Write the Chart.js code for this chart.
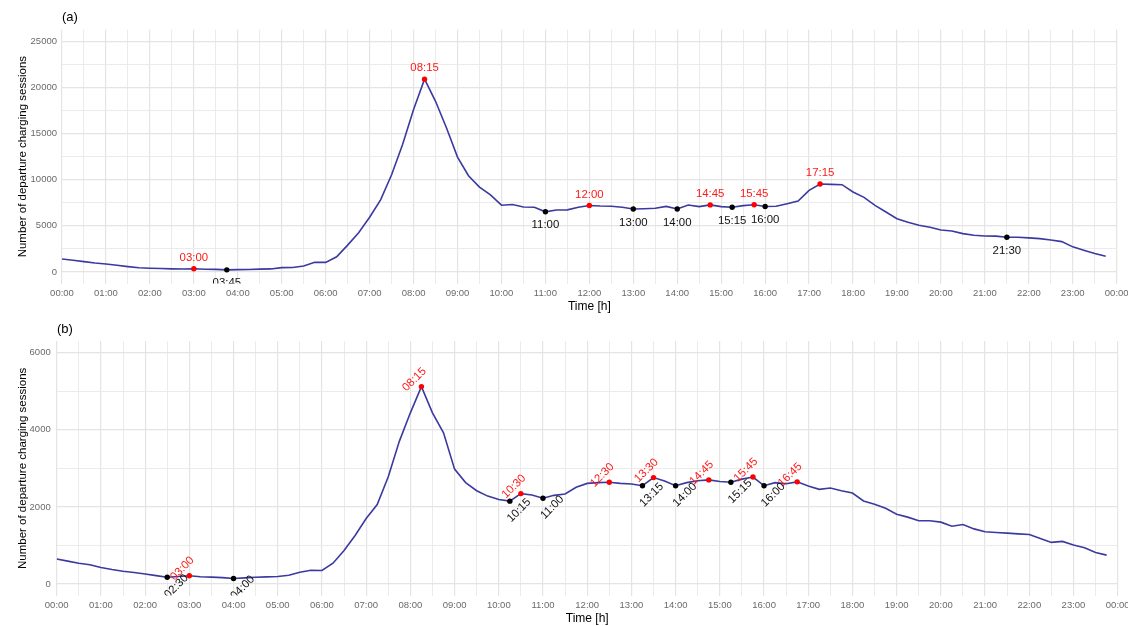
<!DOCTYPE html>
<html>
<head>
<meta charset="utf-8">
<script src="https://cdn.jsdelivr.net/npm/chart.js@4.4.1/dist/chart.umd.min.js"></script>
<style>
  html, body { margin: 0; padding: 0; background: #ffffff; }
  .panel { position: absolute; left: 0; width: 1128px; height: 313px; }
  #panelA { top: 0; }
  #panelB { top: 313px; }
</style>
</head>
<body>
<div class="panel" id="panelA"><canvas id="chartA" width="1128" height="313"></canvas></div>
<div class="panel" id="panelB"><canvas id="chartB" width="1128" height="313"></canvas></div>
<script>
// Quarter-hour time slots of the day
const timeSlots = [
  "00:00","00:15","00:30","00:45","01:00","01:15","01:30","01:45",
  "02:00","02:15","02:30","02:45","03:00","03:15","03:30","03:45",
  "04:00","04:15","04:30","04:45","05:00","05:15","05:30","05:45",
  "06:00","06:15","06:30","06:45","07:00","07:15","07:30","07:45",
  "08:00","08:15","08:30","08:45","09:00","09:15","09:30","09:45",
  "10:00","10:15","10:30","10:45","11:00","11:15","11:30","11:45",
  "12:00","12:15","12:30","12:45","13:00","13:15","13:30","13:45",
  "14:00","14:15","14:30","14:45","15:00","15:15","15:30","15:45",
  "16:00","16:15","16:30","16:45","17:00","17:15","17:30","17:45",
  "18:00","18:15","18:30","18:45","19:00","19:15","19:30","19:45",
  "20:00","20:15","20:30","20:45","21:00","21:15","21:30","21:45",
  "22:00","22:15","22:30","22:45","23:00","23:15","23:30","23:45"
];

// (a) departure charging sessions per slot
const sessionsA = [
  1410, 1270, 1120, 980, 870, 720, 580, 460,
  410, 370, 340, 320, 350, 290, 280, 230,
  250, 270, 310, 330, 470, 480, 650, 1050,
  1040, 1640, 2910, 4250, 5930, 7820, 10540, 13820,
  17600, 20900, 18500, 15600, 12450, 10430, 9200, 8360,
  7240, 7310, 7050, 7020, 6520, 6720, 6730, 7010,
  7200, 7150, 7130, 7010, 6830, 6860, 6900, 7110,
  6830, 7260, 7080, 7270, 7080, 7010, 7190, 7290,
  7100, 7120, 7400, 7690, 8850, 9530, 9500, 9460,
  8670, 8090, 7220, 6500, 5780, 5380, 5060, 4840,
  4550, 4440, 4160, 3980, 3900, 3890, 3760, 3770,
  3700, 3610, 3470, 3290, 2720, 2350, 2000, 1700
];

// (b) departure charging sessions per slot
const sessionsB = [
  650, 594, 541, 498, 428, 375, 332, 297,
  262, 218, 175, 195, 215, 190, 180, 165,
  145, 160, 175, 185, 195, 227, 305, 358,
  352, 540, 870, 1260, 1700, 2060, 2780, 3700,
  4440, 5120, 4440, 3920, 2980, 2630, 2420, 2280,
  2190, 2150, 2345, 2310, 2225, 2300, 2335, 2510,
  2610, 2630, 2640, 2610, 2595, 2550, 2760, 2670,
  2550, 2630, 2680, 2700, 2660, 2640, 2720, 2775,
  2550, 2630, 2600, 2650, 2540, 2455, 2490, 2420,
  2360, 2155, 2070, 1965, 1810, 1735, 1640, 1640,
  1605, 1500, 1545, 1430, 1355, 1335, 1320, 1300,
  1285, 1180, 1080, 1105, 1010, 940, 820, 750
];

// Local maxima (red) and minima (black) that get marked and labelled
const peaksA   = ["03:00","08:15","12:00","14:45","15:45","17:15"];
const troughsA = ["03:45","11:00","13:00","14:00","15:15","16:00","21:30"];
const peaksB   = ["03:00","08:15","10:30","12:30","13:30","14:45","15:45","16:45"];
const troughsB = ["02:30","04:00","10:15","11:00","13:15","14:00","15:15","16:00"];

// Axis ticks (minutes of the day on x)
const xGrid   = [0,30,60,90,120,150,180,210,240,270,300,330,360,390,420,450,480,510,540,570,600,630,660,690,
                 720,750,780,810,840,870,900,930,960,990,1020,1050,1080,1110,1140,1170,1200,1230,1260,1290,
                 1320,1350,1380,1410,1440];
const xLabels = [0,60,120,180,240,300,360,420,480,540,600,660,720,780,840,900,960,1020,1080,1140,1200,1260,1320,1380,1440];
const yGridA   = [0,2500,5000,7500,10000,12500,15000,17500,20000,22500,25000];
const yLabelsA = [0,5000,10000,15000,20000,25000];
const yGridB   = [0,1000,2000,3000,4000,5000,6000];
const yLabelsB = [0,2000,4000,6000];

const FONT = '"Liberation Sans", Arial, Helvetica, sans-serif';
const LINE_COLOR = '#3a3aa0';
const GRID_MAJOR = '#e4e4e4';
const GRID_MINOR = '#ebebeb';
const TICK_COLOR = '#6a6a6a';

function toMinutes(t) {
  const [h, m] = t.split(':').map(Number);
  return h * 60 + m;
}
function fmtMinutes(v) {
  const mins = v % 1440;
  const h = Math.floor(mins / 60), m = mins % 60;
  return String(h).padStart(2, '0') + ':' + String(m).padStart(2, '0');
}

function seriesPoints(values) {
  return timeSlots.map((t, i) => ({ x: toMinutes(t), y: values[i] }));
}
function markDataset(values, times, kind) {
  return {
    type: 'line',
    showLine: false,
    markKind: kind,
    markTimes: times,
    data: times.map(t => ({ x: toMinutes(t), y: values[timeSlots.indexOf(t)] })),
    pointRadius: 2.7,
    pointHoverRadius: 2.7,
    pointBorderWidth: 0,
    pointBackgroundColor: kind === 'peak' ? '#ff0000' : '#000000',
    borderColor: 'transparent',
    order: 0
  };
}

// Draws the "(a)" / "(b)" tag at the top-left of each panel
const panelTag = {
  id: 'panelTag',
  afterDraw(chart, args, opts) {
    const ctx = chart.ctx;
    ctx.save();
    ctx.font = '13px ' + FONT;
    ctx.fillStyle = '#000';
    ctx.textAlign = 'left';
    ctx.textBaseline = 'middle';
    ctx.fillText(opts.text, opts.x, opts.y);
    ctx.restore();
  }
};

// Writes the time next to each marked extremum, clipped to the plot panel
const markLabels = {
  id: 'markLabels',
  afterDatasetsDraw(chart, args, opts) {
    const { ctx, chartArea } = chart;
    ctx.save();
    ctx.beginPath();
    ctx.rect(chartArea.left, chartArea.top, chartArea.right - chartArea.left, chartArea.bottom - chartArea.top);
    ctx.clip();
    ctx.font = '11.4px ' + FONT;
    ctx.textAlign = 'center';
    ctx.textBaseline = 'middle';
    const a = opts.angle;
    const nx = Math.sin(a), ny = -Math.cos(a);
    chart.data.datasets.forEach((ds, i) => {
      if (!ds.markKind) return;
      const meta = chart.getDatasetMeta(i);
      const isPeak = ds.markKind === 'peak';
      const d = isPeak ? opts.above : -opts.below;
      ctx.fillStyle = isPeak ? '#ff1a1a' : '#111111';
      meta.data.forEach((pt, j) => {
        const cx = pt.x + d * nx, cy = pt.y + d * ny;
        ctx.save();
        ctx.translate(cx, cy);
        ctx.rotate(a);
        ctx.fillText(ds.markTimes[j], 0, 0);
        ctx.restore();
      });
    });
    ctx.restore();
  }
};

function buildChart(canvasId, cfg) {
  const gridColor = (labels) => (c) => (c.tick && labels.includes(c.tick.value)) ? GRID_MAJOR : GRID_MINOR;
  const gridWidth = (labels) => (c) => (c.tick && labels.includes(c.tick.value)) ? 1.2 : 1;
  return new Chart(document.getElementById(canvasId), {
    type: 'line',
    data: {
      datasets: [
        markDataset(cfg.values, cfg.peaks, 'peak'),
        markDataset(cfg.values, cfg.troughs, 'trough'),
        {
          data: seriesPoints(cfg.values),
          borderColor: LINE_COLOR,
          borderWidth: 1.6,
          pointRadius: 0,
          tension: 0,
          fill: false,
          order: 1
        }
      ]
    },
    options: {
      responsive: false,
      animation: false,
      devicePixelRatio: 1,
      layout: { padding: { left: 0, right: cfg.padRight, top: cfg.padTop, bottom: 0 } },
      plugins: {
        legend: { display: false },
        tooltip: { enabled: false },
        panelTag: { text: cfg.tag, x: cfg.tagX, y: cfg.tagY },
        markLabels: { angle: cfg.labelAngle, above: cfg.above, below: cfg.below }
      },
      scales: {
        x: {
          type: 'linear',
          min: 0,
          max: 1440,
          afterBuildTicks: (s) => { s.ticks = xGrid.map(v => ({ value: v })); },
          afterFit: (s) => { s.height = cfg.xAxisHeight; s.paddingLeft = 0; s.paddingRight = 0; },
          ticks: {
            autoSkip: false,
            maxRotation: 0,
            minRotation: 0,
            padding: cfg.xTickPad,
            color: TICK_COLOR,
            font: { family: FONT, size: 9.5 },
            callback: (v) => xLabels.includes(v) ? fmtMinutes(v) : ''
          },
          grid: { color: gridColor(xLabels), lineWidth: gridWidth(xLabels), drawTicks: false },
          border: { display: false },
          title: {
            display: true,
            text: 'Time [h]',
            color: '#000',
            font: { family: FONT, size: 12 },
            padding: { top: 0, bottom: cfg.xTitlePad }
          }
        },
        y: {
          type: 'linear',
          min: cfg.yMin,
          max: cfg.yMax,
          afterBuildTicks: (s) => { s.ticks = cfg.yGrid.map(v => ({ value: v })); },
          afterFit: (s) => { s.width = cfg.yAxisWidth; s.paddingTop = 0; s.paddingBottom = 0; },
          ticks: {
            padding: cfg.yTickPad,
            color: TICK_COLOR,
            font: { family: FONT, size: 9.5 },
            callback: (v) => cfg.yLabels.includes(v) ? String(v) : ''
          },
          grid: { color: gridColor(cfg.yLabels), lineWidth: gridWidth(cfg.yLabels), drawTicks: false },
          border: { display: false },
          title: {
            display: true,
            text: 'Number of departure charging sessions',
            color: '#000',
            font: { family: FONT, size: 11.5 },
            padding: { top: 16, bottom: 0 }
          }
        }
      }
    },
    plugins: [panelTag, markLabels]
  });
}

buildChart('chartA', {
  values: sessionsA, peaks: peaksA, troughs: troughsA,
  yMin: -1250, yMax: 26250, yGrid: yGridA, yLabels: yLabelsA,
  yAxisWidth: 62, padTop: 29.8, padRight: 11.3, xAxisHeight: 29.5,
  xTickPad: 4, yTickPad: 5, xTitlePad: -1,
  tag: '(a)', tagX: 62, tagY: 17.5,
  labelAngle: 0, above: 11, below: 13.5
});

buildChart('chartB', {
  values: sessionsB, peaks: peaksB, troughs: troughsB,
  yMin: -300, yMax: 6300, yGrid: yGridB, yLabels: yLabelsB,
  yAxisWidth: 56.7, padTop: 28.1, padRight: 10.3, xAxisHeight: 30.4,
  xTickPad: 4, yTickPad: 6, xTitlePad: 0,
  tag: '(b)', tagX: 57, tagY: 16,
  labelAngle: -Math.PI / 4, above: 10, below: 13
});
</script>
</body>
</html>
